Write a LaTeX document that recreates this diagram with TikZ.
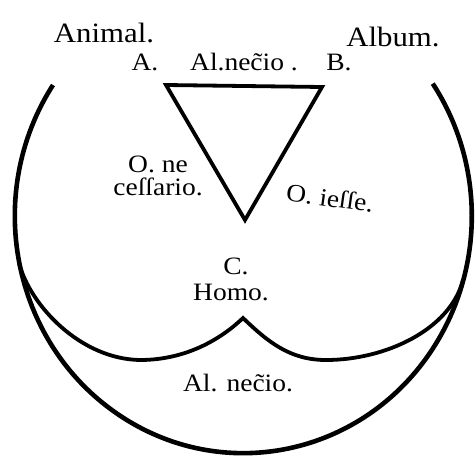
\documentclass[tikz,border=0pt]{standalone}
\usepackage{fontspec}
\setmainfont[FakeStretch=1.1]{Liberation Serif}
\usepackage{tikz}
\usetikzlibrary{positioning}

\begin{document}
\begin{tikzpicture}[
    x=1pt, y=-1pt,
    term/.style={
        inner sep=0pt,
        font=\fontsize{28}{30}\selectfont
    },
    small/.style={
        term,
        font=\fontsize{25}{27}\selectfont
    },
    rim/.style={line width=4.6pt, black},
    edge/.style={line width=3.8pt, black, line join=miter}
]
\useasboundingbox (0,0) rectangle (476,458);

% Terms above the figure
\node[term] (animal) at (104,33) {Animal.};
\node[term] (album) at (393,37) {Album.};
\node[small] (lblA) at (145,62) {A.};
\node[small] (topmid) at (244,62) {Al.nec̃io .};
\node[small] (lblB) at (339,62) {B.};

% Triangle A B C
\coordinate (cA) at (166,85);
\coordinate (cB) at (322,87);
\coordinate (cC) at (245,220);
\draw[edge] (cA) -- (cB) -- (cC) -- cycle;

% Side labels
\node[small, align=center] (leftside) at (158,176) {O. ne\\[-4pt]ceſſario.};
\node[small, rotate=-8] (rightside) at (330,198) {O. ieſſe.};
\node[small] (lblC) at (236,266) {C.};
\node[small] (homo) at (231,292) {Homo.};
\node[small] (botmid) at (238,383) {Al. nec̃io.};

% Outer rim
\coordinate (rimL) at (53,85);
\coordinate (brL) at (19,263);
\coordinate (brR) at (463,280);
\draw[rim] (rimL) arc[start angle=213.6, end angle=-34, x radius=228.5, y radius=237];

% Inner curves meeting at the cusp
\coordinate (lowL) at (140,360);
\coordinate (cusp) at (243,318);
\coordinate (lowR) at (326,360);
\draw[edge] (brL) .. controls (30,305) and (80,359) .. (lowL)
    .. controls (185,360) and (220,340) .. (cusp)
    .. controls (268,342) and (290,360) .. (lowR)
    .. controls (385,360) and (450,330) .. (brR);

\end{tikzpicture}
\end{document}
